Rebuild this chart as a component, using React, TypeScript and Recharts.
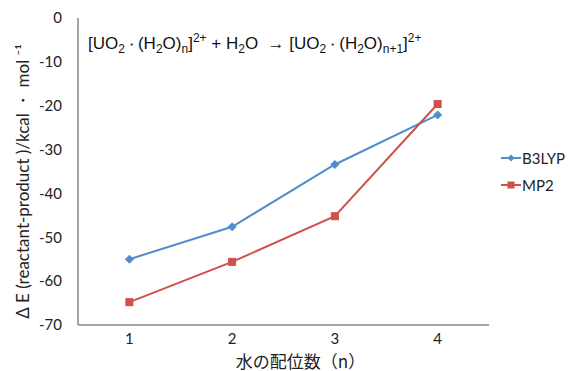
import React from "react";
import { LineChart, Line, XAxis, YAxis, Legend, Label } from "recharts";

const categories = [1, 2, 3, 4];
const b3lyp = [-55.0, -47.6, -33.4, -22.1];
const mp2 = [-64.8, -55.6, -45.2, -19.6];
const yTicks = [0, -10, -20, -30, -40, -50, -60, -70];

const data = categories.map((n, i) => ({ n, B3LYP: b3lyp[i], MP2: mp2[i] }));

const BLUE = "#4F8DCB";
const RED = "#D0504C";
const AXIS = "#898989";
const FONT = "Lato, 'Noto Sans', sans-serif";
const Y_LABEL = "Δ E (reactant-product )/kcal ・ mol ⁻¹";
const X_LABEL = "水の配位数（n）";

const Diamond = (props: any) => {
  const { cx, cy } = props;
  if (cx == null || cy == null) return null;
  const r = 4;
  return (
    <path
      d={`M${cx},${cy - r}L${cx + r},${cy}L${cx},${cy + r}L${cx - r},${cy}Z`}
      fill={BLUE}
      stroke={BLUE}
    />
  );
};

const Square = (props: any) => {
  const { cx, cy } = props;
  if (cx == null || cy == null) return null;
  const r = 3.5;
  return <rect x={cx - r} y={cy - r} width={2 * r} height={2 * r} fill={RED} stroke={RED} />;
};

const LegendContent = () => (
  <div style={{ fontFamily: FONT, fontSize: 15, color: "#222" }}>
    {[
      { name: "B3LYP", color: BLUE, square: false },
      { name: "MP2", color: RED, square: true },
    ].map((it) => (
      <div key={it.name} style={{ display: "flex", alignItems: "center", height: 27 }}>
        <svg width={20} height={12} style={{ marginRight: 1 }}>
          <line x1={0} y1={6} x2={20} y2={6} stroke={it.color} strokeWidth={2} />
          {it.square ? (
            <rect x={6.5} y={2.5} width={7} height={7} fill={it.color} />
          ) : (
            <path d="M10,2.5L13.5,6L10,9.5L6.5,6Z" fill={it.color} />
          )}
        </svg>
        <span>{it.name}</span>
      </div>
    ))}
  </div>
);

const YLabel = (props: any) => {
  const vb = props.viewBox || {};
  const x = (vb.x ?? 0) + 22;
  const y = (vb.y ?? 0) + (vb.height ?? 0) / 2 + 10;
  return (
    <text
      x={x}
      y={y}
      transform={`rotate(-90, ${x}, ${y})`}
      textAnchor="middle"
      dominantBaseline="central"
      style={{ fontFamily: FONT, fontSize: 17, fill: "#222" }}
    >
      {Y_LABEL}
    </text>
  );
};

const XLabel = (props: any) => {
  const vb = props.viewBox || {};
  const x = (vb.x ?? 0) + (vb.width ?? 0) / 2 + 17;
  const y = (vb.y ?? 0) + 35;
  return (
    <text
      x={x}
      y={y}
      textAnchor="middle"
      dominantBaseline="central"
      style={{ fontFamily: "'Noto Sans CJK JP', sans-serif", fontSize: 17, fill: "#222" }}
    >
      {X_LABEL}
    </text>
  );
};

const sub = { fontSize: 12 };
const dot = { fontSize: 13 };

export default function App() {
  return (
    <div style={{ position: "absolute", left: 0, top: 0, width: 568, height: 371, background: "#fff" }}>
      <LineChart
        width={568}
        height={371}
        data={data}
        margin={{ top: 18, right: 79, bottom: 0, left: 0 }}
      >
        <XAxis
          dataKey="n"
          type="number"
          domain={[0.5, 4.5]}
          ticks={categories}
          axisLine={{ stroke: AXIS, strokeWidth: 1.5 }}
          tickLine={false}
          height={46}
          tick={{ fontFamily: FONT, fontSize: 15, fill: "#222" }}
          tickMargin={2}
        >
          <Label value={X_LABEL} content={<XLabel />} />
        </XAxis>
        <YAxis
          domain={[-70, 0]}
          ticks={yTicks}
          interval={0}
          width={78}
          axisLine={{ stroke: AXIS, strokeWidth: 1.5 }}
          tickLine={false}
          tickMargin={10}
          tick={{ fontFamily: FONT, fontSize: 15, fill: "#222" }}
        >
          <Label value={Y_LABEL} content={<YLabel />} />
        </YAxis>
        <Legend
          layout="vertical"
          verticalAlign="middle"
          align="center"
          content={<LegendContent />}
          wrapperStyle={{ left: 501, top: 144, width: 70 }}
        />
        <Line
          dataKey="B3LYP"
          stroke={BLUE}
          strokeWidth={2}
          dot={<Diamond />}
          activeDot={false}
          isAnimationActive={false}
        />
        <Line
          dataKey="MP2"
          stroke={RED}
          strokeWidth={2}
          dot={<Square />}
          activeDot={false}
          isAnimationActive={false}
        />
      </LineChart>
      <div
        style={{
          position: "absolute",
          left: 88,
          top: 31,
          fontFamily: "'Liberation Sans', Arial, sans-serif",
          fontSize: 17,
          color: "#111",
          whiteSpace: "nowrap",
        }}
      >
        [UO<sub style={sub}>2</sub><span style={dot}>・</span>(H<sub style={sub}>2</sub>O)
        <sub style={sub}>n</sub>]<sup style={sub}>2+</sup> + H<sub style={sub}>2</sub>O &nbsp;→ [UO
        <sub style={sub}>2</sub><span style={dot}>・</span>(H<sub style={sub}>2</sub>O)
        <sub style={sub}>n+1</sub>]<sup style={sub}>2+</sup>
      </div>
    </div>
  );
}
